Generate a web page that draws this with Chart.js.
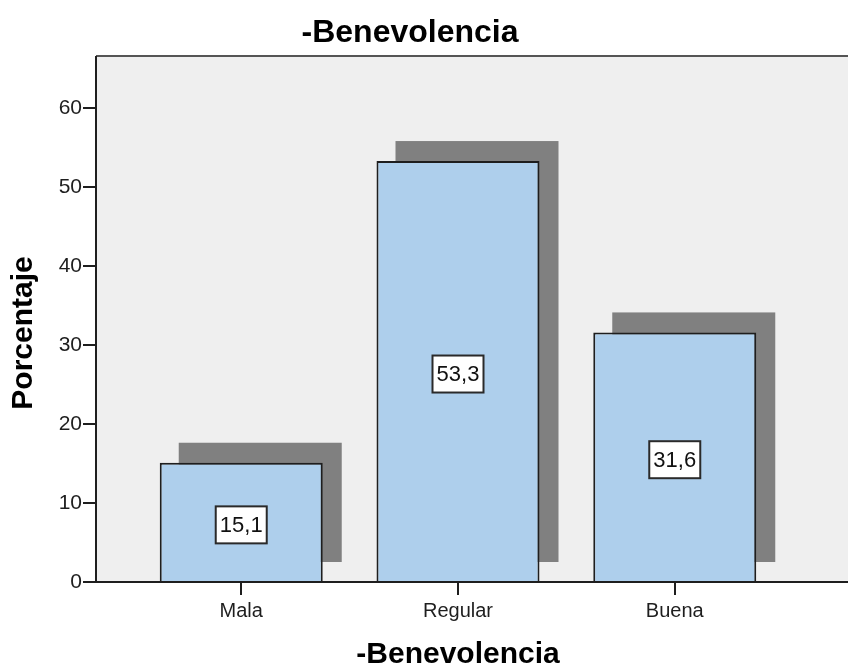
<!DOCTYPE html>
<html>
<head>
<meta charset="utf-8">
<script src="https://cdn.jsdelivr.net/npm/chart.js@4"></script>
<style>
  html, body { margin: 0; padding: 0; background: #fff; overflow: hidden; width: 848px; height: 668px; }
  canvas { display: block; }
</style>
</head>
<body>
<canvas id="chart" width="850" height="668"></canvas>
<script>
// Frequency distribution (percent) for "-Benevolencia"
const categories = ['Mala', 'Regular', 'Buena'];
const percentages = [15.1, 53.3, 31.6];
const yTickValues = [0, 10, 20, 30, 40, 50, 60];
const chartTitle = '-Benevolencia';
const xAxisTitle = '-Benevolencia';
const yAxisTitle = 'Porcentaje';

const FONT = "'Liberation Sans', Arial, sans-serif";
const INK = '#1e1e1e';
const SHADOW_DX = 19;
const SHADOW_DY = 20;

const fmt = v => v.toFixed(1).replace('.', ',');

// Grey plot background, drop shadows, frame lines, value boxes, rotated y title
const spssDecor = {
  id: 'spssDecor',
  beforeDraw(chart) {
    const { ctx, chartArea: a, width } = chart;
    ctx.save();
    ctx.fillStyle = '#efefef';
    ctx.fillRect(a.left, a.top, width - a.left, a.bottom - a.top);
    ctx.restore();
  },
  beforeDatasetsDraw(chart) {
    const { ctx } = chart;
    ctx.save();
    ctx.fillStyle = '#808080';
    chart.getDatasetMeta(0).data.forEach(bar => {
      const p = bar.getProps(['x', 'y', 'base', 'width'], true);
      ctx.fillRect(p.x - p.width / 2 + SHADOW_DX, p.y - SHADOW_DY, p.width, p.base - p.y + 1);
    });
    ctx.restore();
  },
  afterDatasetsDraw(chart) {
    const { ctx, chartArea: a, width } = chart;
    ctx.save();
    // frame
    ctx.strokeStyle = '#555';
    ctx.lineWidth = 2;
    ctx.beginPath();
    ctx.moveTo(a.left, a.top);
    ctx.lineTo(width, a.top);
    ctx.stroke();
    ctx.strokeStyle = INK;
    ctx.lineWidth = 2;
    ctx.beginPath();
    ctx.moveTo(a.left, a.top);
    ctx.lineTo(a.left, a.bottom);
    ctx.lineTo(width, a.bottom);
    ctx.stroke();
    // value boxes
    ctx.font = `22px ${FONT}`;
    ctx.textAlign = 'center';
    ctx.textBaseline = 'middle';
    chart.getDatasetMeta(0).data.forEach((bar, i) => {
      const p = bar.getProps(['x', 'y', 'base'], true);
      const label = fmt(percentages[i]);
      const w = Math.round(ctx.measureText(label).width + 8);
      const h = 37;
      const cx = p.x;
      const cy = (p.y + p.base) / 2 + 3;
      ctx.fillStyle = '#fff';
      ctx.fillRect(cx - w / 2, cy - h / 2, w, h);
      ctx.strokeStyle = '#2a2a2a';
      ctx.lineWidth = 2;
      ctx.strokeRect(cx - w / 2, cy - h / 2, w, h);
      ctx.fillStyle = '#111';
      ctx.fillText(label, cx, cy + 1);
    });
    ctx.restore();
  },
  afterDraw(chart) {
    const { ctx } = chart;
    ctx.save();
    ctx.translate(24, 333);
    ctx.rotate(-Math.PI / 2);
    ctx.font = `bold 30px ${FONT}`;
    ctx.fillStyle = '#000';
    ctx.textAlign = 'center';
    ctx.textBaseline = 'middle';
    ctx.fillText(yAxisTitle, 0, 0);
    ctx.restore();
  }
};

new Chart(document.getElementById('chart'), {
  type: 'bar',
  data: {
    datasets: [{
      data: percentages.map((v, i) => ({ x: i, y: v })),
      backgroundColor: '#aecfec',
      borderColor: INK,
      borderWidth: 2,
      barPercentage: 0.752,
      categoryPercentage: 1
    }]
  },
  options: {
    responsive: false,
    animation: false,
    devicePixelRatio: 1,
    layout: { padding: { left: 0, right: 30, top: 0, bottom: 0 } },
    plugins: {
      legend: { display: false },
      tooltip: { enabled: false },
      title: {
        display: true,
        text: chartTitle,
        color: '#000',
        font: { family: FONT, size: 32, weight: 'bold', lineHeight: 1.2 },
        padding: { top: 13.8, bottom: 3.8 }
      }
    },
    scales: {
      x: {
        type: 'linear',
        min: -0.67,
        max: 2.67,
        offset: false,
        afterBuildTicks: s => { s.ticks = categories.map((_, i) => ({ value: i })); },
        afterFit: s => { s.height = 86; },
        ticks: {
          callback: v => categories[v],
          font: { family: FONT, size: 20 },
          color: INK,
          padding: 4,
          maxRotation: 0,
          autoSkip: false
        },
        grid: { offset: false, drawOnChartArea: false, drawTicks: true, tickLength: 13, color: INK, lineWidth: 2 },
        border: { display: false },
        title: {
          display: true,
          text: xAxisTitle,
          color: '#000',
          font: { family: FONT, size: 30, weight: 'bold', lineHeight: 0.9 },
          padding: 0
        }
      },
      y: {
        min: 0,
        max: 66.6,
        afterBuildTicks: s => { s.ticks = yTickValues.map(v => ({ value: v })); },
        afterFit: s => { s.width = 96; },
        ticks: { font: { family: FONT, size: 21 }, color: INK, padding: 1 },
        grid: { drawOnChartArea: false, drawTicks: true, tickLength: 13, color: INK, lineWidth: 2 },
        border: { display: false },
        title: { display: false }
      }
    }
  },
  plugins: [spssDecor]
});
</script>
</body>
</html>
